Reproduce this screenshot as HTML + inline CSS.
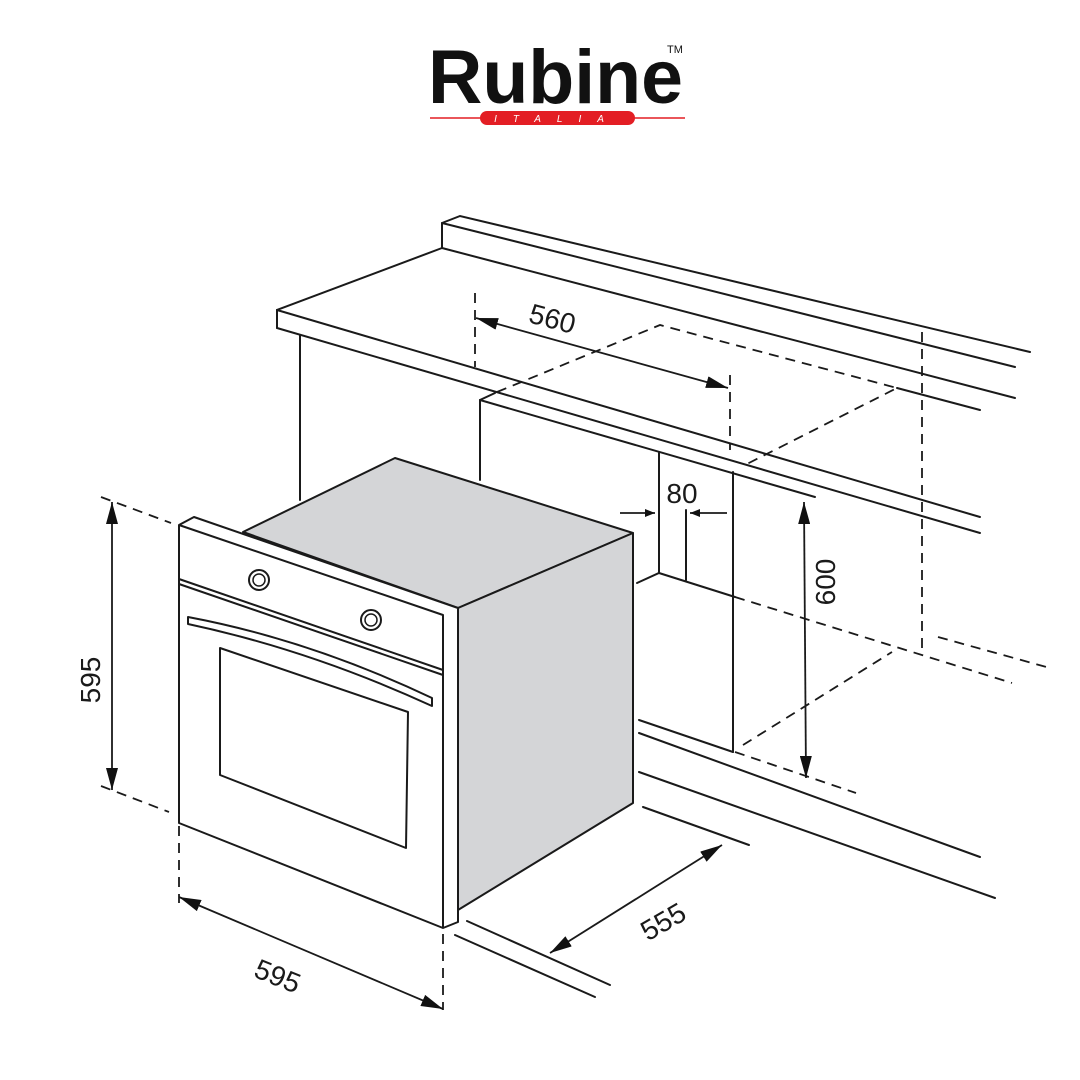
<!DOCTYPE html>
<html><head><meta charset="utf-8"><style>
html,body{margin:0;padding:0;background:#fff;width:1080px;height:1080px;overflow:hidden}
svg{display:block}
</style></head><body>
<svg width="1080" height="1080" viewBox="0 0 1080 1080" xmlns="http://www.w3.org/2000/svg">
<defs>
<marker id="ar" markerWidth="10" markerHeight="8" refX="10" refY="4" orient="auto" markerUnits="userSpaceOnUse">
<path d="M0,0 L10,4 L0,8 Z" fill="#111"/></marker>
<marker id="arS" markerWidth="22" markerHeight="12" refX="22" refY="6" orient="auto-start-reverse" markerUnits="userSpaceOnUse">
<path d="M0,0 L22,6 L0,12 Z" fill="#111"/></marker>
</defs>
<!-- logo -->
<text x="428" y="103" font-family="Liberation Sans, sans-serif" font-weight="bold" font-size="76" fill="#111" textLength="255" lengthAdjust="spacingAndGlyphs">Rubine</text>
<text x="667" y="53" font-family="Liberation Sans, sans-serif" font-size="11" fill="#111">TM</text>
<line x1="430" y1="118" x2="685" y2="118" stroke="#e31e24" stroke-width="1.5"/>
<rect x="480" y="111" width="155" height="14" rx="7" fill="#e31e24"/>
<text x="557" y="122" text-anchor="middle" font-family="Liberation Sans, sans-serif" font-style="italic" font-size="10" fill="#fff" letter-spacing="16">ITALIA</text>

<g stroke="#1a1a1a" stroke-width="2" fill="none" stroke-linecap="round">
<!-- backsplash -->
<polyline points="442,247 442,223 460,216 1030,352"/>
<line x1="442" y1="223" x2="1015" y2="367"/>
<line x1="442" y1="248" x2="1015" y2="398"/>
<line x1="897" y1="388" x2="980" y2="410"/>
<!-- countertop -->
<polyline points="442,248 277,310 277,328"/>
<line x1="277" y1="310" x2="980" y2="517"/>
<line x1="277" y1="328" x2="980" y2="533"/>
<line x1="300" y1="335" x2="300" y2="500"/>
<!-- opening -->
<polyline points="480,480 480,400 495,393"/>
<line x1="480" y1="400" x2="815" y2="497"/>
<line x1="659" y1="453" x2="659" y2="573"/>
<line x1="686" y1="510" x2="686" y2="580"/>
<line x1="733" y1="472" x2="733" y2="752"/>
<polyline points="637,583 659,573 735,597"/>
<line x1="639" y1="720" x2="733" y2="752"/>
<line x1="639" y1="733" x2="980" y2="857"/>
<line x1="639" y1="772" x2="995" y2="898"/>
<line x1="643" y1="807" x2="749" y2="845"/>
<line x1="467" y1="921" x2="610" y2="985"/>
<line x1="455" y1="935" x2="595" y2="997"/>
</g>
<!-- dashed -->
<g stroke="#1a1a1a" stroke-width="1.8" fill="none" stroke-dasharray="10,7">
<polyline points="497,392 660,325 897,388 745,465"/>
<line x1="475" y1="293" x2="475" y2="367"/>
<line x1="730" y1="375" x2="730" y2="450"/>
<line x1="922" y1="332" x2="922" y2="652"/>
<line x1="735" y1="597" x2="1012" y2="683"/>
<line x1="938" y1="637" x2="1050" y2="668"/>
<line x1="743" y1="745" x2="892" y2="652"/>
<line x1="735" y1="752" x2="856" y2="793"/>
<line x1="101" y1="497" x2="171" y2="523"/>
<line x1="101" y1="786" x2="169" y2="812"/>
<line x1="179" y1="826" x2="179" y2="903"/>
<line x1="443" y1="934" x2="443" y2="1010"/>
</g>
<!-- oven -->
<g stroke="#1a1a1a" stroke-width="2" stroke-linejoin="round">
<polygon points="243,532 395,458 633,533 458,608" fill="#d4d5d7"/>
<polygon points="458,608 633,533 633,803 458,910" fill="#d4d5d7"/>
<polygon points="179,525 194,517 458,608 458,922 443,928 179,823" fill="#fff"/>
<polyline points="179,525 443,615 443,928" fill="none"/>
<line x1="179" y1="579" x2="443" y2="670"/>
<line x1="179" y1="584" x2="443" y2="675"/>
<polygon points="220,648 408,712 406,848 220,775" fill="none"/>
<path d="M188,617 Q310,640 432,698 L432,706 Q310,650 188,624 Z" fill="#fff"/>
<circle cx="259" cy="580" r="10" fill="#fff"/>
<circle cx="259" cy="580" r="6" fill="none" stroke-width="1.5"/>
<circle cx="371" cy="620" r="10" fill="#fff"/>
<circle cx="371" cy="620" r="6" fill="none" stroke-width="1.5"/>
</g>
<!-- dimension arrows -->
<g stroke="#1a1a1a" stroke-width="1.8" fill="none">
<line x1="112" y1="502" x2="112" y2="790" marker-start="url(#arS)" marker-end="url(#arS)"/>
<line x1="179" y1="897" x2="443" y2="1009" marker-start="url(#arS)" marker-end="url(#arS)"/>
<line x1="550" y1="953" x2="722" y2="845" marker-start="url(#arS)" marker-end="url(#arS)"/>
<line x1="476" y1="318" x2="728" y2="388" marker-start="url(#arS)" marker-end="url(#arS)"/>
<line x1="804" y1="502" x2="806" y2="778" marker-start="url(#arS)" marker-end="url(#arS)"/>
<line x1="620" y1="513" x2="655" y2="513" marker-end="url(#ar)"/>
<line x1="727" y1="513" x2="690" y2="513" marker-end="url(#ar)"/>
</g>
<g font-family="Liberation Sans, sans-serif" font-size="28" fill="#1a1a1a" text-anchor="middle">
<text transform="translate(100,680) rotate(-90)">595</text>
<text transform="translate(274,985) rotate(22)">595</text>
<text transform="translate(668,930) rotate(-30)">555</text>
<text transform="translate(550,328) rotate(15)">560</text>
<text transform="translate(835,582) rotate(-90)">600</text>
<text x="682" y="503">80</text>
</g>
</svg>
</body></html>
